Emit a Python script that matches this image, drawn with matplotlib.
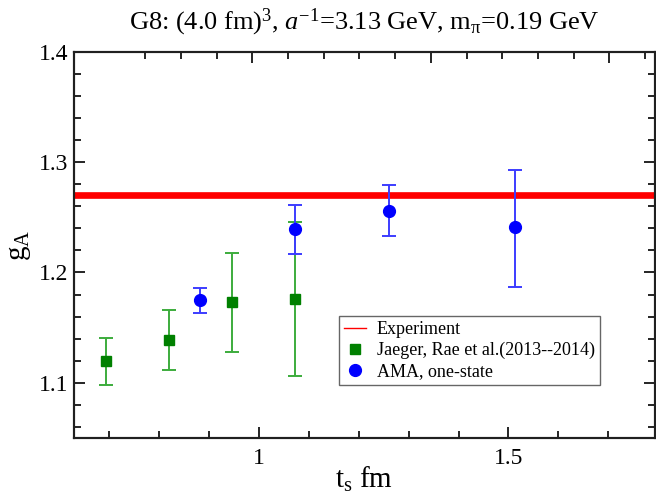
import numpy as np
import matplotlib
matplotlib.use('Agg')
import matplotlib.pyplot as plt
from matplotlib.ticker import MultipleLocator

plt.rcParams['font.family'] = 'Liberation Serif'
plt.rcParams['mathtext.fontset'] = 'custom'
plt.rcParams['mathtext.rm'] = 'Liberation Serif'
plt.rcParams['mathtext.it'] = 'Liberation Serif:italic'

# source-sink separations in fm (lattice spacing a = 1/3.13 GeV)
jaeger_ts = [0.693, 0.820, 0.946, 1.072]
jaeger_ga = [1.120, 1.139, 1.173, 1.176]
jaeger_lo = [1.098, 1.112, 1.128, 1.106]
jaeger_hi = [1.141, 1.166, 1.218, 1.246]

ama_ts = [0.882, 1.072, 1.261, 1.513]
ama_ga = [1.175, 1.239, 1.256, 1.241]
ama_lo = [1.163, 1.217, 1.233, 1.187]
ama_hi = [1.186, 1.261, 1.279, 1.293]

g_exp = 1.27

fig = plt.figure(figsize=(6.56, 4.99), dpi=100)
ax = fig.add_axes([74 / 656, 61 / 499, 581 / 656, 386.3 / 499])

ax.axhline(g_exp, color='red', lw=4.8, zorder=1, label='Experiment')

jy = np.array(jaeger_ga)
ax.errorbar(jaeger_ts, jy, yerr=[jy - np.array(jaeger_lo), np.array(jaeger_hi) - jy],
            fmt='none', ecolor='#3cac3c', elinewidth=1.4, capsize=5, capthick=1.4, zorder=2)
ax.plot(jaeger_ts, jy, 's', color='#008000', ms=7.5, zorder=3,
        label='Jaeger, Rae et al.(2013--2014)')

ay = np.array(ama_ga)
ax.errorbar(ama_ts, ay, yerr=[ay - np.array(ama_lo), np.array(ama_hi) - ay],
            fmt='none', ecolor='#3c3cff', elinewidth=1.4, capsize=5, capthick=1.4, zorder=4)
ax.plot(ama_ts, ay, 'o', color='#0000ff', ms=8.5, zorder=5, label='AMA, one-state')

ax.set_xlim(0.629, 1.794)
ax.set_ylim(1.05, 1.4)
ax.xaxis.set_major_locator(MultipleLocator(0.5))
ax.xaxis.set_minor_locator(MultipleLocator(0.1))
ax.yaxis.set_major_locator(MultipleLocator(0.1))
ax.yaxis.set_minor_locator(MultipleLocator(0.02))
ax.tick_params(which='both', direction='in', right=True, top=False, width=1.2)
ax.tick_params(which='major', length=8, labelsize=17)
ax.tick_params(which='minor', length=5)
ax.tick_params(axis='x', pad=7)
ax.tick_params(axis='y', pad=4)
ax.xaxis.set_major_formatter(lambda v, p: f'{v:g}')
ax.yaxis.set_major_formatter(lambda v, p: f'{v:.1f}')

# top axis carries its own tick spacing
top = ax.twiny()
top.set_xlim(ax.get_xlim())
top.set_xticks(0.8937 + 0.399 * np.arange(-1, 3))
top.set_xticks(0.8937 + 0.0798 * np.arange(-3, 12), minor=True)
top.tick_params(which='both', direction='in', labeltop=False, width=1.2)
top.tick_params(which='major', length=8)
top.tick_params(which='minor', length=5)

for a in (ax, top):
    for s in a.spines.values():
        s.set_linewidth(1.5)
        s.set_color('#202020')

ax.set_xlabel('t$_\\mathrm{s}$ fm', fontsize=21, labelpad=-3)
ax.set_ylabel('g$_\\mathrm{A}$', fontsize=21, labelpad=4)
ax.set_title('G8: (4.0 fm)$^3$, $a^{-1}$=3.13 GeV, m$_\\mathrm{\\pi}$=0.19 GeV',
             fontsize=19, pad=16)

leg = ax.legend(loc='upper left', bbox_to_anchor=(265 / 581, (438 - 316) / 386.3),
                fontsize=13, frameon=True, fancybox=False, edgecolor='#404040',
                handlelength=1.2, borderpad=0.3, labelspacing=0.2, handletextpad=0.6,
                borderaxespad=0)
leg.get_frame().set_linewidth(1.0)
leg.legend_handles[0].set_linewidth(1.0)

fig.savefig('out.png', dpi=100)
